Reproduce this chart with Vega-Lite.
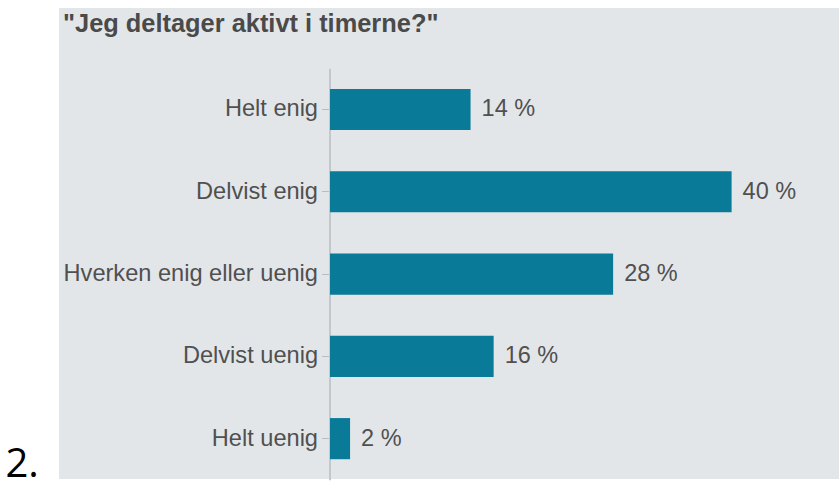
{
  "$schema": "https://vega.github.io/schema/vega-lite/v6.json",
  "width": 780,
  "height": 471,
  "autosize": {"type": "none"},
  "padding": {"left": 59, "top": 8, "right": 0, "bottom": 4},
  "background": "#ffffff",
  "view": {"fill": "#e3e6e9", "stroke": null},
  "title": {
    "text": "\"Jeg deltager aktivt i timerne?\"",
    "anchor": "start",
    "frame": "group",
    "orient": "top",
    "offset": -49,
    "dx": 4,
    "baseline": "alphabetic",
    "font": "Liberation Sans",
    "fontSize": 25.4,
    "fontWeight": "bold",
    "color": "#4a4a4a"
  },
  "data": {
    "values": [
      {"svar": "Helt enig", "pct": 14, "label": "14 %"},
      {"svar": "Delvist enig", "pct": 40, "label": "40 %"},
      {"svar": "Hverken enig eller uenig", "pct": 28.2, "label": "28 %"},
      {"svar": "Delvist uenig", "pct": 16.3, "label": "16 %"},
      {"svar": "Helt uenig", "pct": 2, "label": "2 %"}
    ]
  },
  "encoding": {
    "y": {
      "field": "svar",
      "type": "nominal",
      "sort": null,
      "scale": {"range": [60.3, 471.8], "paddingInner": 0.5, "paddingOuter": 0.25},
      "axis": {
        "title": null,
        "offset": -270.5,
        "domainColor": "#c4c8cc",
        "domainWidth": 2,
        "tickColor": "#b8bcc0",
        "tickSize": 8,
        "tickWidth": 1,
        "labelPadding": 4,
        "labelFont": "Liberation Sans",
        "labelFontSize": 23.6,
        "labelColor": "#505050",
        "labelLimit": 400,
        "grid": false
      }
    },
    "x": {
      "field": "pct",
      "type": "quantitative",
      "scale": {"domain": [0, 50], "range": [271, 773], "nice": false, "zero": true},
      "axis": {
        "title": "2.",
        "domain": false,
        "ticks": false,
        "labels": false,
        "grid": false,
        "titleX": -54,
        "titleY": -3,
        "titleAlign": "left",
        "titleBaseline": "alphabetic",
        "titleAnchor": null,
        "titleFont": "Open Sans",
        "titleFontSize": 40,
        "titleFontWeight": "normal",
        "titleColor": "#000000"
      }
    }
  },
  "layer": [
    {"mark": {"type": "bar", "color": "#0a7a99"}},
    {
      "mark": {
        "type": "text",
        "align": "left",
        "baseline": "middle",
        "dx": 11,
        "font": "Liberation Sans",
        "fontSize": 23.5,
        "color": "#505050"
      },
      "encoding": {"text": {"field": "label"}}
    }
  ]
}
